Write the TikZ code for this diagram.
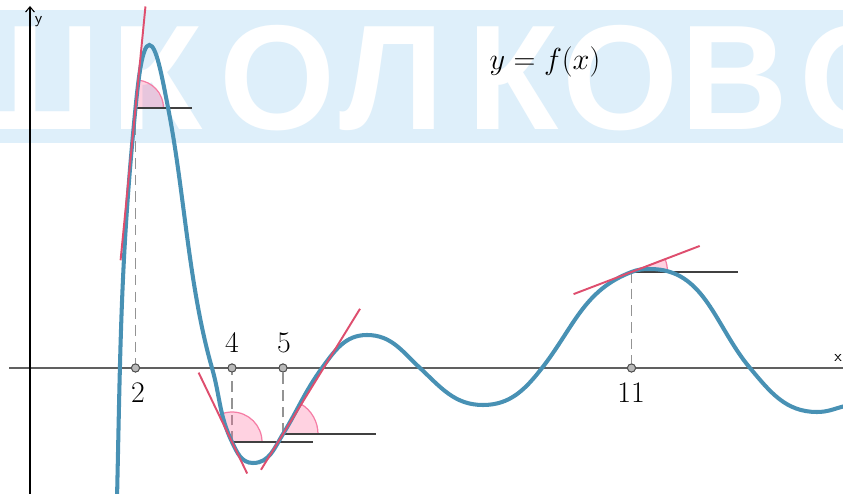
\documentclass[tikz,border=0pt]{standalone}
\usepackage{fontspec}
\newfontfamily\wmfont{Liberation Sans}
\usetikzlibrary{arrows.meta}

\definecolor{bandblue}{RGB}{222,239,250}
\definecolor{curveblue}{RGB}{72,145,180}
\definecolor{tanred}{RGB}{222,78,110}
\definecolor{sectorpink}{RGB}{255,105,155}
\definecolor{sectoredge}{RGB}{245,125,165}
\definecolor{axisgray}{RGB}{96,96,96}

\begin{document}
\begin{tikzpicture}[x=0.02cm, y=0.02cm,
    tangent/.style={draw=tanred, line width=1.1pt},
    horiz/.style={draw=black!75, line width=0.8pt},
    guide/.style={draw=gray!85, line width=1.1pt, dash pattern=on 6pt off 3.5pt},
    sector/.style={fill=sectorpink, fill opacity=0.3, draw=sectoredge, draw opacity=1, line width=0.7pt},
    axispt/.style={circle, fill=gray!55, draw=black!70, line width=0.5pt, inner sep=0pt, minimum size=4.6pt},
    numlabel/.style={font=\fontsize{17}{20}\selectfont, inner sep=0pt}]
\useasboundingbox (0,0) rectangle (843,494);

% Watermark band
\fill[bandblue] (0,351) rectangle (843,484);
\begin{scope}
    \clip (0,351) rectangle (843,484);
    \foreach \ch/\xpos in {Ш/26, К/157, О/278, Л/392, К/513, О/621, В/734, О/858} {
        \node[anchor=base, text=white, inner sep=0pt,
              font=\wmfont\bfseries\fontsize{85}{85}\selectfont] at (\xpos,364) {\ch};
    }
\end{scope}

% Axes
\draw[axisgray, line width=1.2pt] (9,126) -- (843,126);
\draw[black, line width=0.6pt, -{Straight Barb[length=3pt, width=5pt]}] (30,0) -- (30,488);
\node[font=\fontsize{9}{10}\sffamily, inner sep=0pt] (xl) at (838,136) {x};
\node[font=\fontsize{9}{10}\sffamily, inner sep=0pt] (yl) at (38.5,472) {y};

% Tangency points
\coordinate (P2) at (135.5,386);
\coordinate (P4) at (232,52);
\coordinate (P5) at (283,60);
\coordinate (P11) at (631.5,222);

% Points on the x-axis
\node[axispt] (A2) at (135.5,126) {};
\node[axispt] (A4) at (232,126) {};
\node[axispt] (A5) at (283,126) {};
\node[axispt] (A11) at (631.5,126) {};

% Dashed guides
\draw[guide] (P2) -- (A2);
\draw[guide] (P4) -- (A4);
\draw[guide] (P5) -- (A5);
\draw[guide] (P11) -- (A11);
\node[axispt] at (A2) {};
\node[axispt] at (A4) {};
\node[axispt] at (A5) {};
\node[axispt] at (A11) {};

% Angle sectors
\filldraw[sector] (P2) -- ++(28,0) arc[start angle=0, end angle=84.4, radius=28] -- cycle;
\filldraw[sector] (P4) -- ++(30,0) arc[start angle=0, end angle=115.7, radius=30] -- cycle;
\filldraw[sector] (P5) -- ++(35,0) arc[start angle=0, end angle=58.4, radius=35] -- cycle;
\filldraw[sector] (P11) -- ++(36,0) arc[start angle=0, end angle=20.9, radius=36] -- cycle;

% Horizontal lines
\draw[horiz] (P2) -- ++(56,0);
\draw[horiz] (P4) -- ++(81,0);
\draw[horiz] (P5) -- ++(93,0);
\draw[horiz] (P11) -- ++(106,0);

% Graph of f
\draw[curveblue, line width=2.3pt, line cap=round]
    (117,-5) to[out=88.7, in=264.4] (P2)
    .. controls +(84.4:30) and +(180:7) .. (149.3,449)
    .. controls +(0:7) and +(101:35) .. (168.3,385)
    .. controls +(-79:85) and +(106:85) .. (212,126)
    to[out=-74, in=115.7] (P4)
    to[out=-64.3, in=180] (253,31)
    to[out=0, in=238.4] (P5)
    to[out=58.4, in=234] (322,126)
    to[out=54, in=180] (367,159)
    to[out=0, in=137] (420,126)
    to[out=-43, in=180] (483,89)
    to[out=0, in=232] (542,126)
    to[out=52, in=200.9] (P11)
    to[out=20.9, in=180] (650,225)
    to[out=0, in=130] (750,126)
    to[out=-50, in=180] (817,82)
    to[out=0, in=194] (845,88);

% Tangent lines
\draw[tangent] (P2) ++(264.4:153) -- ++(84.4:255);
\draw[tangent] (P4) ++(115.7:77) -- ++(-64.3:112);
\draw[tangent] (P5) ++(238.4:42) -- ++(58.4:189);
\draw[tangent] (P11) ++(200.9:62) -- ++(20.9:135);

% Labels
\node[numlabel] (l2) at (138,101) {2};
\node[numlabel] (l4) at (232,151) {4};
\node[numlabel] (l5) at (284,151) {5};
\node[numlabel] (l11) at (631,101) {11};
\node[numlabel] (fx) at (545,432) {$y=f(x)$};
\end{tikzpicture}
\end{document}
